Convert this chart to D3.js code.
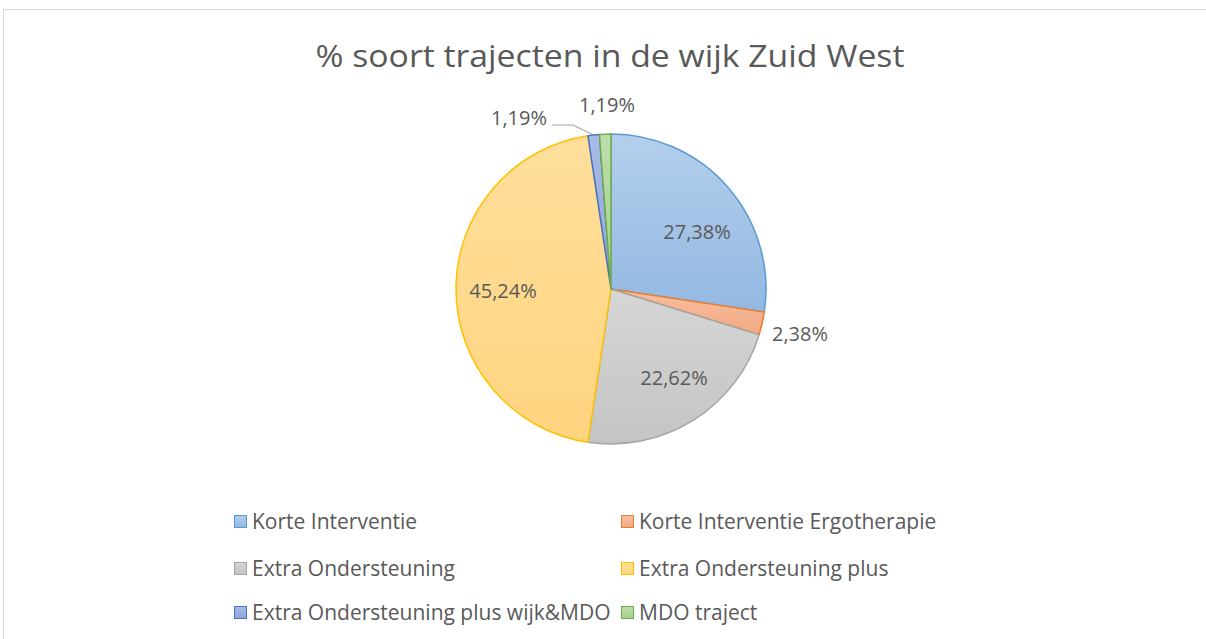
<!DOCTYPE html>
<html><head><meta charset="utf-8">
<script src="https://cdn.jsdelivr.net/npm/d3@7"></script>
<style>body{margin:0;background:#fff;font-family:"Open Sans",sans-serif;}</style>
</head><body><svg id="c" width="1206" height="639"></svg>
<script>
const categories = ["Korte Interventie","Korte Interventie Ergotherapie","Extra Ondersteuning","Extra Ondersteuning plus","Extra Ondersteuning plus wijk&MDO","MDO traject"];
const values = [27.38, 2.38, 22.62, 45.24, 1.19, 1.19];
const labels = ["27,38%","2,38%","22,62%","45,24%","1,19%","1,19%"];
const fillTop = ["#b4cfec","#f8bfa0","#d6d6d6","#ffdf9c","#a9bbe6","#bddeab"];
const fillBot = ["#93b8e2","#f2a882","#c4c4c4","#ffd47f","#8fa5dc","#a5cf8c"];
const strokes = ["#5b9bd5","#ed7d31","#a5a5a5","#ffc000","#4472c4","#70ad47"];

const svg = d3.select("#c");
svg.append("rect").attr("x",3.5).attr("y",9.5).attr("width",1210).attr("height",640).attr("fill","#fff").attr("stroke","#d9d9d9");
svg.append("text").attr("x",610).attr("y",67).attr("text-anchor","middle").attr("font-size",31).attr("fill","#595959")
  .attr("textLength",589).attr("lengthAdjust","spacingAndGlyphs").text("% soort trajecten in de wijk Zuid West");

const cx=611, cy=289, r=155;
const defs = svg.append("defs");
categories.forEach((c,i)=>{
  const g = defs.append("linearGradient").attr("id","g"+i).attr("x1",0).attr("y1",0).attr("x2",0).attr("y2",1);
  g.append("stop").attr("offset","0%").attr("stop-color",fillTop[i]);
  g.append("stop").attr("offset","100%").attr("stop-color",fillBot[i]);
});
const pie = d3.pie().sort(null).value(d=>d);
const arcs = pie(values);
const arc = d3.arc().innerRadius(0).outerRadius(r);
const gp = svg.append("g").attr("transform",`translate(${cx},${cy})`);
gp.selectAll("path").data(arcs).join("path").attr("d",arc)
  .attr("fill",(d,i)=>`url(#g${i})`).attr("stroke",(d,i)=>strokes[i]).attr("stroke-width",1.5).attr("stroke-linejoin","round");

const labelPos = [[697,232],[800,334],[674,378],[503,291],[519,118],[607,105]];
svg.selectAll("text.lbl").data(labels).join("text").attr("class","lbl")
  .attr("x",(d,i)=>labelPos[i][0]).attr("y",(d,i)=>labelPos[i][1]+7)
  .attr("text-anchor","middle").attr("font-size",20).attr("fill","#595959").text(d=>d);
const a4 = (arcs[4].startAngle+arcs[4].endAngle)/2;
const ex = cx + r*Math.sin(a4), ey = cy - r*Math.cos(a4);
svg.append("polyline").attr("points",`552,125 573,125 ${ex},${ey}`).attr("fill","none").attr("stroke","#a6a6a6").attr("stroke-width",1.2);

const legX=[234,621], legY=[522,569,613];
categories.forEach((c,i)=>{
  const x=legX[i%2], y=legY[Math.floor(i/2)];
  svg.append("rect").attr("x",x+0.5).attr("y",y-6.5).attr("width",12).attr("height",12)
    .attr("fill",`url(#g${i})`).attr("stroke",strokes[i]).attr("stroke-width",1);
  svg.append("text").attr("x",x+18).attr("y",y+7).attr("font-size",21).attr("fill","#595959").text(c);
});
</script></body></html>
